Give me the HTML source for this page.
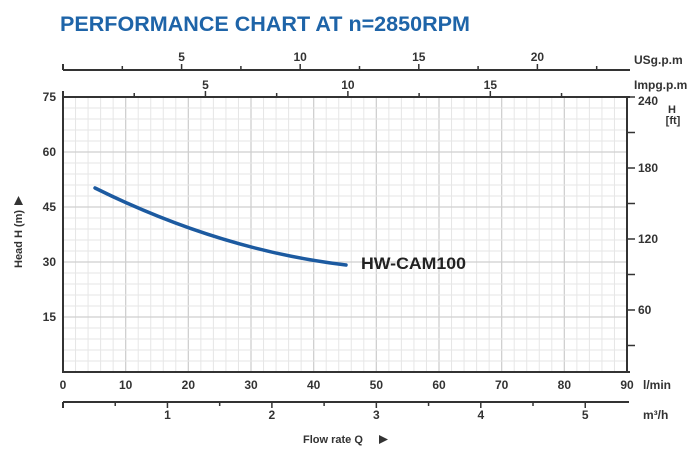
<!DOCTYPE html>
<html><head><meta charset="utf-8"><style>
body{margin:0;background:#fff;}
svg text{font-family:"Liberation Sans",sans-serif;font-weight:bold;fill:#333;}
</style></head><body>
<svg id="s" width="700" height="459" xmlns="http://www.w3.org/2000/svg"></svg>
<script>
const s=document.getElementById('s');let h='';
const X=v=>63+v*6.2667, Y=v=>372-v*3.6667;
for(let i=0;i<=45;i++){const x=X(i*2);const maj=i%5==0;h+=`<line x1="${x}" y1="97" x2="${x}" y2="372" stroke="${maj?'#cfcfcf':'#e6e6e6'}" stroke-width="${maj?1.3:1}"/>`;}
for(let i=0;i<=25;i++){const y=Y(i*3);const maj=i%5==0;h+=`<line x1="63" y1="${y}" x2="627" y2="${y}" stroke="${maj?'#cfcfcf':'#e6e6e6'}" stroke-width="${maj?1.3:1}"/>`;}
h+=`<path d="M63 97V372H630M627 97V372M63 97H630" stroke="#333" stroke-width="2" fill="none"/>`;
[15,30,45,60,75].forEach(v=>h+=`<text x="56" y="${Y(v)+4}" font-size="12" text-anchor="end">${v}</text>`);
for(let f=30;f<=240;f+=30){const y=97+(240-f)*1.1833;h+=`<line x1="627" y1="${y}" x2="635" y2="${y}" stroke="#333" stroke-width="1.5"/>`;if(f%60==0&&f<240)h+=`<text x="638" y="${y+4}" font-size="12">${f}</text>`;}
h+=`<text x="672" y="113" font-size="11" text-anchor="middle">H</text><text x="673" y="124" font-size="11" text-anchor="middle">[ft]</text>`;
for(let v=0;v<=90;v+=10)h+=`<text x="${X(v)}" y="389" font-size="12" text-anchor="middle">${v}</text>`;
h+=`<text x="643" y="389" font-size="12">l/min</text>`;
h+=`<line x1="63" y1="402" x2="629" y2="402" stroke="#333" stroke-width="2"/>`;
for(let i=0;i<=10;i++){const x=X(i*0.5*16.667);h+=`<line x1="${x}" y1="402" x2="${x}" y2="${i%2==0?408:406}" stroke="#333" stroke-width="1.5"/>`;if(i%2==0&&i>0)h+=`<text x="${x}" y="419" font-size="12" text-anchor="middle">${i/2}</text>`;}
h+=`<line x1="63" y1="402" x2="63" y2="408" stroke="#333" stroke-width="2"/>`;
h+=`<text x="643" y="419" font-size="12">m³/h</text>`;
h+=`<text x="303" y="443" font-size="11">Flow rate Q</text><path d="M379 435l9 4.5-9 4.5z" fill="#333"/>`;
h+=`<line x1="63" y1="70" x2="630" y2="70" stroke="#333" stroke-width="2"/><line x1="63" y1="70" x2="63" y2="64" stroke="#333" stroke-width="2"/>`;
for(let i=1;i<=9;i++){const x=X(i*2.5*3.785);h+=`<line x1="${x}" y1="70" x2="${x}" y2="${i%2==0?64:66}" stroke="#333" stroke-width="1.5"/>`;if(i%2==0)h+=`<text x="${x}" y="61" font-size="12" text-anchor="middle">${i*2.5}</text>`;}
h+=`<text x="634" y="64" font-size="12">USg.p.m</text>`;
for(let i=1;i<=7;i++){const x=X(i*2.5*4.546);h+=`<line x1="${x}" y1="97" x2="${x}" y2="${i%2==0?91:93}" stroke="#333" stroke-width="1.5"/>`;if(i%2==0)h+=`<text x="${x}" y="89" font-size="12" text-anchor="middle">${i*2.5}</text>`;}
h+=`<line x1="63" y1="97" x2="63" y2="91" stroke="#333" stroke-width="2"/>`;
h+=`<text x="634" y="89" font-size="12">Impg.p.m</text><text x="638" y="105" font-size="12">240</text>`;
h+=`<text transform="translate(22,268) rotate(-90)" font-size="11">Head H (m)</text><path d="M14 205l4.5-9 4.5 9z" fill="#333"/>`;
h+=`<path d="M95 188 Q220 250 346 265" stroke="#1c5aa0" stroke-width="3.5" fill="none" stroke-linecap="round"/>`;
h+=`<text x="361" y="269" font-size="17" style="fill:#222" textLength="105" lengthAdjust="spacingAndGlyphs">HW-CAM100</text>`;
h+=`<text x="60" y="31" font-size="21" style="fill:#1e64a8" textLength="410" lengthAdjust="spacingAndGlyphs">PERFORMANCE CHART AT n=2850RPM</text>`;
s.innerHTML=h;
</script>
</body></html>
